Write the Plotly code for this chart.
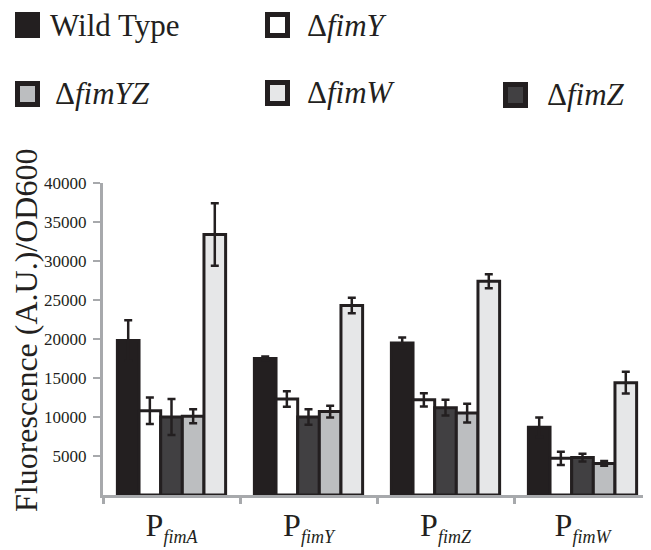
import plotly.graph_objects as go

promoters = ["P<sub><span style='font-size:18px'><i>fimA</i></span></sub>",
             "P<sub><span style='font-size:18px'><i>fimY</i></span></sub>",
             "P<sub><span style='font-size:18px'><i>fimZ</i></span></sub>",
             "P<sub><span style='font-size:18px'><i>fimW</i></span></sub>"]

strains = ["Wild Type", "Δ<i>fimY</i>", "Δ<i>fimZ</i>", "Δ<i>fimYZ</i>", "Δ<i>fimW</i>"]

wild_type = [19800, 17500, 19500, 8700]
wild_type_err = [2600, 250, 700, 1250]
fimY = [10800, 12300, 12200, 4700]
fimY_err = [1700, 1000, 850, 850]
fimZ = [10000, 10000, 11200, 4800]
fimZ_err = [2300, 1000, 1000, 500]
fimYZ = [10100, 10700, 10500, 4050]
fimYZ_err = [900, 750, 1200, 300]
fimW = [33400, 24300, 27400, 14400]
fimW_err = [4000, 1000, 900, 1400]

y_ticks = [5000, 10000, 15000, 20000, 25000, 30000, 35000, 40000]

series = [wild_type, fimY, fimZ, fimYZ, fimW]
errors = [wild_type_err, fimY_err, fimZ_err, fimYZ_err, fimW_err]
fills = ["#231f20", "#ffffff", "#414042", "#bcbec0", "#e6e7e8"]

OFF = 8  # page body margin
W, H = 651 - OFF, 550 - OFF
L, R, T, B = 103 - OFF, 0, 183 - OFF, 55
PW, PH = W - L - R, H - T - B


def px(x):
    return (x - OFF - L) / PW


def py(y):
    return (H - B - (y - OFF)) / PH


serif = "Liberation Serif"
ink = "#231f20"

fig = go.Figure()
for name, vals, err, col in zip(strains, series, errors, fills):
    fig.add_trace(go.Bar(
        x=promoters, y=vals, name=name, showlegend=False,
        marker=dict(color=col, line=dict(color=ink, width=3)),
        error_y=dict(type="data", array=err, color=ink, thickness=2.5, width=4),
    ))

# custom legend layout: (box left, text left, row centre) in page pixels
legend_pos = {
    "Wild Type": (15, 48, 25),
    "Δ<i>fimY</i>": (265, 305, 25),
    "Δ<i>fimYZ</i>": (15, 53, 94),
    "Δ<i>fimW</i>": (265, 305, 93),
    "Δ<i>fimZ</i>": (503, 545, 95),
}
shapes = []
annotations = []
for name, col in zip(strains, fills):
    x0, xt, yc = legend_pos[name]
    shapes.append(dict(type="rect", xref="paper", yref="paper",
                       x0=px(x0 + 2.5), x1=px(x0 + 22.5),
                       y0=py(yc + 10.5), y1=py(yc - 10.5),
                       fillcolor=col, line=dict(color=ink, width=5)))
    annotations.append(dict(text=name, xref="paper", yref="paper",
                            x=px(xt), y=py(yc), xanchor="left", yanchor="middle",
                            showarrow=False,
                            font=dict(family=serif, size=31, color=ink)))

annotations.append(dict(text="Fluorescence (A.U.)/OD600", xref="paper", yref="paper",
                        x=px(26), y=py(331), xanchor="center", yanchor="middle",
                        textangle=-90, showarrow=False, borderpad=0,
                        font=dict(family=serif, size=32, color=ink)))

fig.update_layout(
    width=W, height=H,
    margin=dict(l=L, r=R, t=T, b=B, autoexpand=False),
    plot_bgcolor="white", paper_bgcolor="white",
    barmode="group", bargap=0.21, bargroupgap=0,
    font=dict(family=serif, color=ink),
    showlegend=False,
    shapes=shapes, annotations=annotations,
    xaxis=dict(
        showline=True, linecolor="#a7a9ac", linewidth=3,
        ticks="outside", tickson="boundaries", tickcolor="#a7a9ac",
        ticklen=6, tickwidth=3, range=[-0.5, 3.5], tickangle=0,
        tickfont=dict(family=serif, size=32, color=ink),
        showgrid=False, automargin=False,
    ),
    yaxis=dict(
        range=[0, 40000], tickvals=y_ticks, tickformat="d",
        showline=True, linecolor="#a7a9ac", linewidth=3,
        ticks="outside", tickcolor="#a7a9ac", ticklen=7, tickwidth=2,
        ticklabelstandoff=3,
        tickfont=dict(family=serif, size=17, color=ink),
        showgrid=False, zeroline=False, automargin=False,
    ),
)

fig.write_html("out.html")
